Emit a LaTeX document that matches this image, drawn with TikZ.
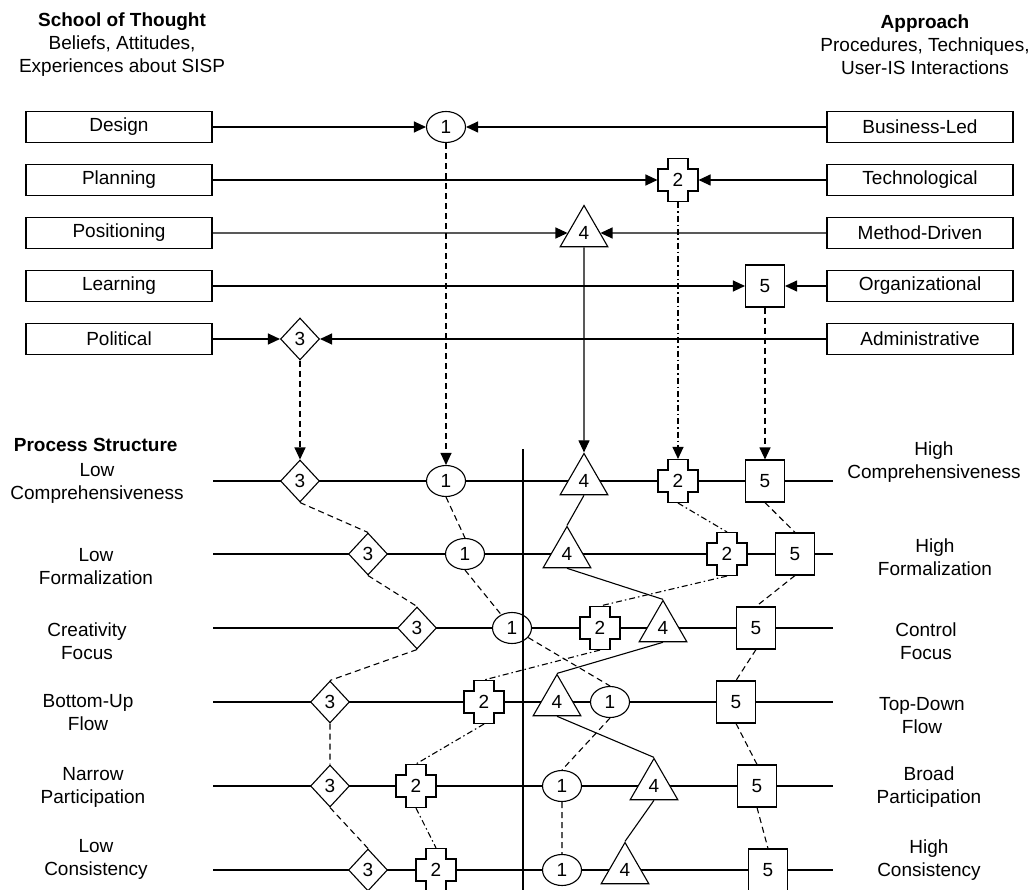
\documentclass[tikz,border=0pt]{standalone}
\usepackage{fontspec}
\setmainfont{Liberation Sans}
\usetikzlibrary{shapes.geometric,arrows.meta}
\newcommand{\crossat}[3]{%
  \draw[fill=white,solid] (#2-10,#3-21.5) -- ++(20,0) -- ++(0,10.5) -- ++(10,0) -- ++(0,22) -- ++(-10,0) -- ++(0,10.5) -- ++(-20,0) -- ++(0,-10.5) -- ++(-10,0) -- ++(0,-22) -- ++(10,0) -- cycle;
  \node[crs] (#1) at (#2,#3) {2};}
\begin{document}
\begin{tikzpicture}[x=1pt,y=-1pt,line width=1.1pt,
  every node/.style={font=\fontsize{19}{23}\selectfont},
  lbox/.style={draw, minimum width=186pt, minimum height=31pt, inner sep=0pt},
  ell/.style={ellipse, draw, fill=white, minimum width=39pt, minimum height=31pt, inner sep=0pt},
  dia/.style={diamond, draw, fill=white, minimum width=39pt, minimum height=42pt, inner sep=0pt},
  tri/.style={regular polygon, regular polygon sides=3, draw, fill=white, minimum size=55pt, inner sep=0pt},
  sq/.style={rectangle, draw, fill=white, minimum width=39pt, minimum height=42pt, inner sep=0pt},
  crs/.style={rectangle, minimum width=40pt, minimum height=43pt, inner sep=0pt},
  arr/.style={-{Triangle[length=12pt,width=11pt]}},
  dsh/.style={dash pattern=on 6pt off 4pt},
  dshdot/.style={dash pattern=on 6pt off 3pt on 1.5pt off 3pt},
  lab/.style={align=center}]
\useasboundingbox (0,0) rectangle (1030,890);
\clip (0,0) rectangle (1030,890);
% headers
\node[lab] (hl) at (122,45) {\textbf{School of Thought}\\Beliefs, Attitudes,\\Experiences about SISP};
\node[lab] (hr) at (925,45) {\textbf{Approach}\\Procedures, Techniques,\\User-IS Interactions};
% boxes
\node[lbox] (bDesign) at (119,127) {Design};
\node[lbox] (bPlanning) at (119,180) {Planning};
\node[lbox] (bPositioning) at (119,233) {Positioning};
\node[lbox] (bLearning) at (119,286) {Learning};
\node[lbox] (bPolitical) at (119,339) {Political};
\node[lbox] (bBusiness) at (920,127) {Business-Led};
\node[lbox] (bTech) at (920,180) {Technological};
\node[lbox] (bMethod) at (920,233) {Method-Driven};
\node[lbox] (bOrg) at (920,286) {Organizational};
\node[lbox] (bAdmin) at (920,339) {Administrative};
% top shapes
\node[ell] (tE) at (446,127) {1};
\crossat{tC}{678}{180}
\node[tri] (tT) at (584,233) {4};
\node[sq] (tS) at (765,286) {5};
\node[dia] (tD) at (300,339) {3};
% top arrows
\draw[arr] (bDesign.east) -- (tE.west);
\draw[arr] (bBusiness.west) -- (tE.east);
\draw[arr] (bPlanning.east) -- (tC.west);
\draw[arr] (bTech.west) -- (tC.east);
\draw[arr] (bPositioning.east) -- (tT);
\draw[arr] (bMethod.west) -- (tT);
\draw[arr] (bLearning.east) -- (tS.west);
\draw[arr] (bOrg.west) -- (tS.east);
\draw[arr] (bPolitical.east) -- (tD.west);
\draw[arr] (bAdmin.west) -- (tD.east);
% process structure
\node[anchor=west,font=\fontsize{19}{23}\selectfont\bfseries] (ps) at (10,445) {Process Structure};
\node[lab] (l1) at (97,483) {Low\\Comprehensiveness};
\node[lab] (l2) at (96,567) {Low\\Formalization};
\node[lab] (l3) at (87,641) {Creativity\\Focus};
\node[lab] (l4) at (88,713) {Bottom-Up\\Flow};
\node[lab] (l5) at (93,787) {Narrow\\Participation};
\node[lab] (l6) at (96,859) {Low\\Consistency};
\node[lab] (r1) at (934,462) {High\\Comprehensiveness};
\node[lab] (r2) at (935,557) {High\\Formalization};
\node[lab] (r3) at (926,641) {Control\\Focus};
\node[lab] (r4) at (922,716) {Top-Down\\Flow};
\node[lab] (r5) at (929,787) {Broad\\Participation};
\node[lab] (r6) at (929,860) {High\\Consistency};
% row lines
\foreach \i/\y in {1/481,2/554,3/628,4/702,5/786,6/870}{
  \coordinate (LA\i) at (213,\y);
  \coordinate (RA\i) at (833,\y);
  \draw (LA\i) -- (RA\i);
}
% rows shapes
\node[dia] (d1) at (300,481) {3};
\node[ell] (e1) at (446,481) {1};
\node[tri] (t1) at (584,481) {4};
\crossat{c1}{678}{481}
\node[sq] (s1) at (765,481) {5};
\node[dia] (d2) at (368,554) {3};
\node[ell] (e2) at (465,554) {1};
\node[tri] (t2) at (567,554) {4};
\crossat{c2}{727}{554}
\node[sq] (s2) at (795,554) {5};
\node[dia] (d3) at (417,628) {3};
\node[ell] (e3) at (512,628) {1};
\crossat{c3}{600}{628}
\node[tri] (t3) at (663,628) {4};
\node[sq] (s3) at (756,628) {5};
\node[dia] (d4) at (330,702) {3};
\crossat{c4}{484}{702}
\node[tri] (t4) at (557,702) {4};
\node[ell] (e4) at (610,702) {1};
\node[sq] (s4) at (736,702) {5};
\node[dia] (d5) at (330,786) {3};
\crossat{c5}{416}{786}
\node[ell] (e5) at (562,786) {1};
\node[tri] (t5) at (654,786) {4};
\node[sq] (s5) at (757,786) {5};
\node[dia] (d6) at (368,870) {3};
\crossat{c6}{436}{870}
\node[ell] (e6) at (562,870) {1};
\node[tri] (t6) at (625,870) {4};
\node[sq] (s6) at (768,870) {5};
% vertical axis
\coordinate (vt) at (523,449);
\coordinate (vb) at (523,890);
\draw (vt) -- (vb);
% from top to row 1
\draw[dsh,arr] (tD.south) -- (d1.north);
\draw[dsh,arr] (tE.south) -- (e1.north);
\draw[arr] (tT.south) -- (t1.north);
\draw[dshdot,arr] (tC.south) -- (c1.north);
\draw[dsh,arr] (tS.south) -- (s1.north);
% profiles
\draw[dsh] (d1.south) -- (d2.north) (d2.south) -- (d3.north) (d3.south) -- (d4.north) (d4.south) -- (d5.north) (d5.south) -- (d6.north);
\draw[dsh] (e1.south) -- (e2.north) (e2.south) -- (e3) (e3) -- (e4.north) (e4.south) -- (e5.north) (e5.south) -- (e6.north);
\draw[dshdot] (c1.south) -- (c2.north) (c2.south) -- (c3.north) (c3.south) -- (c4.north) (c4.south) -- (c5.north) (c5.south) -- (c6.north);
\draw (t1.south) -- (t2.north) (t2.south) -- (t3.north) (t3.south) -- (t4.north) (t4.south) -- (t5.north) (t5.south) -- (t6.north);
\draw[dsh] (s1.south) -- (s2.north) (s2.south) -- (s3.north) (s3.south) -- (s4.north) (s4.south) -- (s5.north) (s5.south) -- (s6.north);
\end{tikzpicture}
\end{document}
